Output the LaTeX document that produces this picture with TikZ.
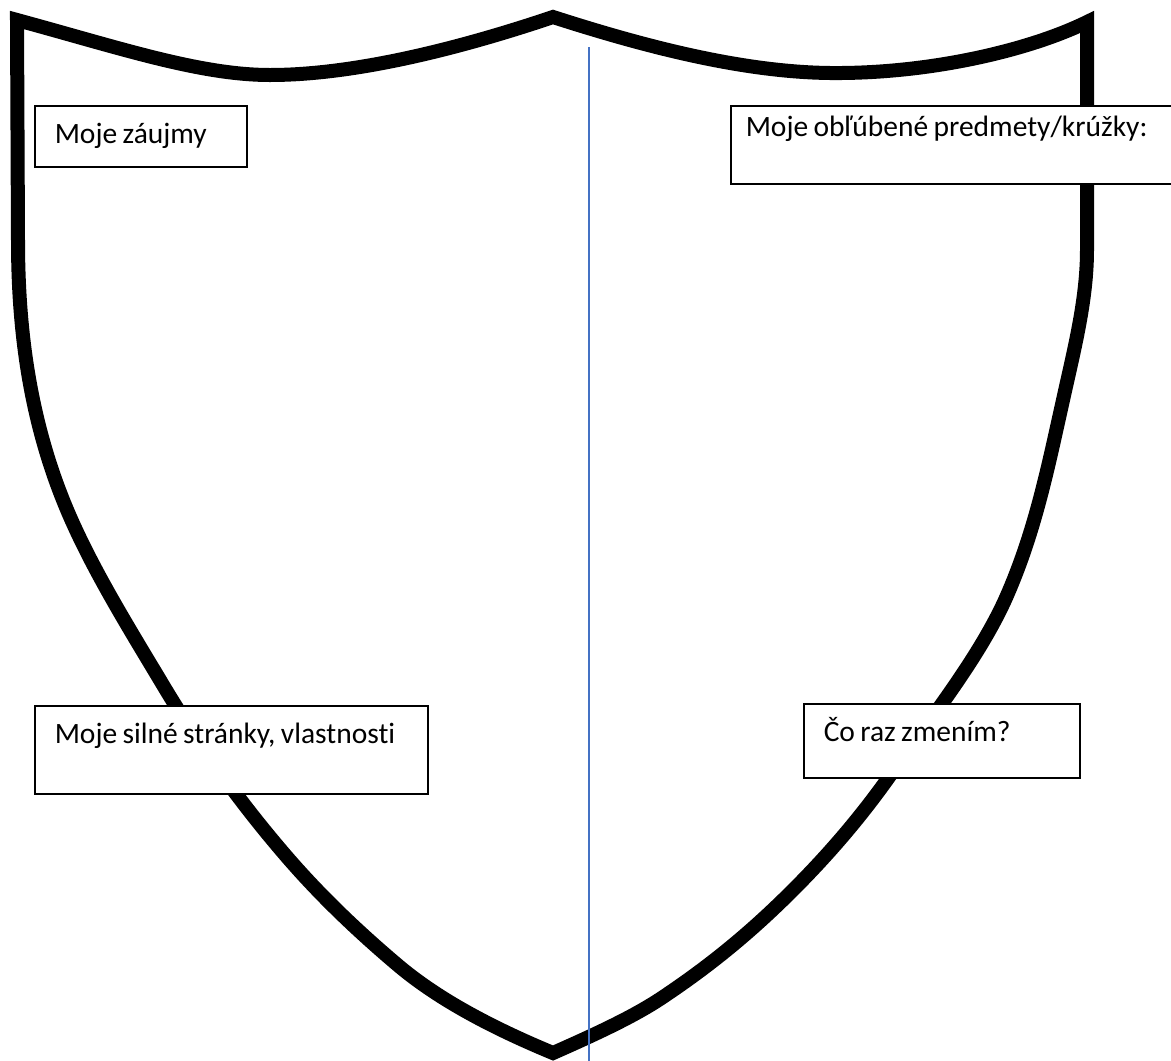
\documentclass[tikz,border=0pt]{standalone}
\usepackage{fontspec}
\setmainfont{Carlito}[Ligatures=NoCommon, WordSpace=0.8]
\definecolor{dividerblue}{HTML}{4472C4}

\begin{document}
\begin{tikzpicture}[x=1pt, y=-1pt,
  shieldline/.style={draw, line width=14pt, line join=miter},
  fieldbox/.style={draw, line width=1.5pt, fill=white, anchor=north west, font=\fontsize{29.5}{35}\selectfont, text height=20pt, inner xsep=20pt, inner ysep=18pt},
  divider/.style={draw=dividerblue, line width=2pt}]
\useasboundingbox (0,0) rectangle (1171,1061);
\clip (0,0) rectangle (1171,1061);
\fill[white] (0,0) rectangle (1171,1061);
\draw[shieldline] (553,1053)
  .. controls (483,1024) and (435,996) .. (400,967)
  .. controls (356,930) and (319,894) .. (287,857)
  .. controls (236,798) and (195,739) .. (160,680)
  .. controls (124,620) and (87,560) .. (63,500)
  .. controls (27,410) and (18,320) .. (18,240)
  -- (17,20)
  .. controls (120,48) and (200,75) .. (270,75)
  .. controls (360,75) and (470,45) .. (553,17)
  .. controls (640,45) and (740,72) .. (830,73)
  .. controls (930,74) and (1030,50) .. (1087,22)
  -- (1087,250)
  .. controls (1087,300) and (1074,350) .. (1063,400)
  .. controls (1048,467) and (1035,533) .. (1005,600)
  .. controls (978,659) and (931,718) .. (889,777)
  .. controls (862,815) and (831,852) .. (793,890)
  .. controls (757,926) and (717,961) .. (663,997)
  .. controls (635,1016) and (596,1034) .. (553,1053)
  -- cycle;
\node[fieldbox, text depth=5pt] (interests) at (34,105) {\makebox[172pt][l]{Moje záujmy}};
\node[fieldbox, inner xsep=15pt, inner ysep=11pt, text depth=36pt] (subjects) at (730,105) {\makebox[420pt][l]{Moje obľúbené predmety/krúžky:}};
\node[fieldbox, text depth=32pt] (strengths) at (34,705) {\makebox[353pt][l]{Moje silné stránky, vlastnosti}};
\node[fieldbox, text depth=18pt] (changes) at (803,703) {\makebox[236pt][l]{Čo raz zmením?}};
\coordinate (divtop) at (589,47);
\coordinate (divbot) at (589,1061);
\draw[divider] (divtop) -- (divbot);
\end{tikzpicture}
\end{document}
